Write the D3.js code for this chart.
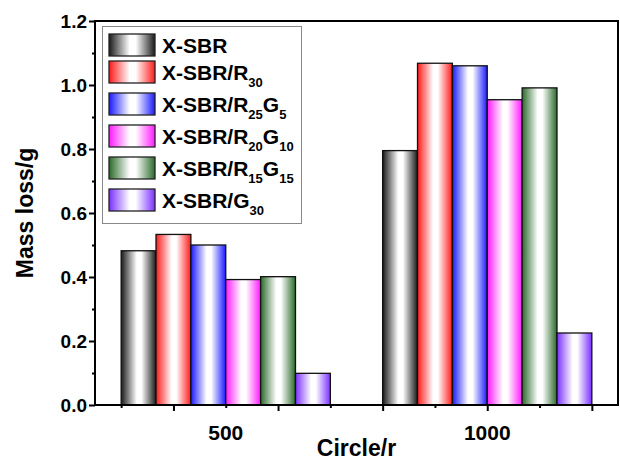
<!DOCTYPE html>
<html>
<head>
<meta charset="utf-8">
<script src="https://cdn.jsdelivr.net/npm/d3@7"></script>
<style>
  body { margin: 0; background: #fff; }
  text { font-family: "Liberation Sans", Arial, sans-serif; font-weight: bold; fill: #000; }
</style>
</head>
<body>
<div id="chart"></div>
<script>
// data
const groups = [500, 1000];
const seriesNames = [
  ["X-SBR"],
  ["X-SBR/R", "30"],
  ["X-SBR/R", "25", "G", "5"],
  ["X-SBR/R", "20", "G", "10"],
  ["X-SBR/R", "15", "G", "15"],
  ["X-SBR/G", "30"]
];
const seriesColors = ["#1a1a1a", "#ff1a1a", "#1a1aff", "#ff1aff", "#2a6a2a", "#7a30ff"];
const massLoss = [
  [0.482, 0.795],
  [0.533, 1.068],
  [0.500, 1.060],
  [0.392, 0.954],
  [0.401, 0.991],
  [0.099, 0.225]
];
const yTicks = [0, 0.2, 0.4, 0.6, 0.8, 1.0, 1.2];

const width = 620, height = 463;
const margin = { top: 21, right: 2, bottom: 58, left: 95 };

const svg = d3.select("#chart").append("svg")
  .attr("width", width)
  .attr("height", height);

const defs = svg.append("defs");
seriesColors.forEach((c, i) => {
  const g = defs.append("linearGradient")
    .attr("id", "grad" + i)
    .attr("x1", "0%").attr("x2", "100%")
    .attr("y1", "0%").attr("y2", "0%");
  g.append("stop").attr("offset", "0%").attr("stop-color", c);
  g.append("stop").attr("offset", "45%").attr("stop-color", "#fff");
  g.append("stop").attr("offset", "58%").attr("stop-color", "#fff");
  g.append("stop").attr("offset", "100%").attr("stop-color", c);
});

const x = d3.scaleLinear()
  .domain([250, 1250])
  .range([margin.left, width - margin.right]);

const y = d3.scaleLinear()
  .domain([0, 1.2])
  .range([height - margin.bottom, margin.top]);

const groupSpan = 400;
const barW = groupSpan / seriesNames.length;

// bars
seriesNames.forEach((name, i) => {
  svg.append("g")
    .selectAll("rect")
    .data(groups.map((g, j) => ({ g, v: massLoss[i][j] })))
    .enter()
    .append("rect")
    .attr("x", d => x(d.g - groupSpan / 2 + i * barW))
    .attr("width", x(barW) - x(0))
    .attr("y", d => y(d.v))
    .attr("height", d => y(0) - y(d.v))
    .attr("fill", "url(#grad" + i + ")")
    .attr("stroke", "#111")
    .attr("stroke-width", 1.3);
});

// frame
svg.append("rect")
  .attr("x", margin.left)
  .attr("y", margin.top)
  .attr("width", width - margin.left - margin.right)
  .attr("height", height - margin.top - margin.bottom)
  .attr("fill", "none")
  .attr("stroke", "#000")
  .attr("stroke-width", 2);

// y axis
const yAxis = svg.append("g")
  .attr("transform", `translate(${margin.left},0)`)
  .call(d3.axisLeft(y).tickValues(yTicks).tickFormat(d3.format(".1f")).tickSize(6).tickPadding(2));
yAxis.select(".domain").remove();
yAxis.selectAll(".tick line").attr("stroke-width", 2);
yAxis.selectAll("text").style("font-size", "19px").attr("dy", "0.35em");

const yMinor = svg.append("g")
  .attr("transform", `translate(${margin.left},0)`)
  .call(d3.axisLeft(y).tickValues(d3.range(0.1, 1.2, 0.2)).tickSize(3).tickFormat(""));
yMinor.select(".domain").remove();
yMinor.selectAll(".tick line").attr("stroke-width", 2);

// x axis
const xAxis = svg.append("g")
  .attr("transform", `translate(0,${height - margin.bottom})`)
  .call(d3.axisBottom(x).tickValues([400, 600, 800, 1000, 1200]).tickSize(6).tickFormat(""));
xAxis.select(".domain").remove();
xAxis.selectAll(".tick line").attr("stroke-width", 2);

const xMinor = svg.append("g")
  .attr("transform", `translate(0,${height - margin.bottom})`)
  .call(d3.axisBottom(x).tickValues([300, 500, 700, 900, 1100]).tickSize(3).tickFormat(""));
xMinor.select(".domain").remove();
xMinor.selectAll(".tick line").attr("stroke-width", 2);

svg.append("g")
  .selectAll("text")
  .data(groups)
  .enter()
  .append("text")
  .attr("x", d => x(d))
  .attr("y", height - margin.bottom + 35)
  .attr("text-anchor", "middle")
  .style("font-size", "21px")
  .text(d => d);

// axis titles
svg.append("text")
  .attr("x", (margin.left + width - margin.right) / 2)
  .attr("y", 456)
  .attr("text-anchor", "middle")
  .style("font-size", "23px")
  .text("Circle/r");

svg.append("text")
  .attr("transform", `translate(33,${(margin.top + height - margin.bottom) / 2}) rotate(-90)`)
  .attr("text-anchor", "middle")
  .style("font-size", "23px")
  .text("Mass loss/g");

// legend
const legend = svg.append("g");
legend.append("rect")
  .attr("x", 102.5).attr("y", 26.5)
  .attr("width", 199).attr("height", 197)
  .attr("fill", "#fff")
  .attr("stroke", "#888")
  .attr("stroke-width", 1);

let rowY = 34;
seriesNames.forEach((parts, i) => {
  legend.append("rect")
    .attr("x", 109).attr("y", rowY)
    .attr("width", 46).attr("height", 22)
    .attr("fill", "url(#grad" + i + ")")
    .attr("stroke", "#222")
    .attr("stroke-width", 1.3);
  const t = legend.append("text")
    .attr("x", 162)
    .attr("y", rowY + 19)
    .style("font-size", "21px");
  parts.forEach((p, k) => {
    const sub = k % 2 === 1;
    t.append("tspan")
      .attr("dy", k === 0 ? 0 : (sub ? 7 : -7))
      .style("font-size", sub ? "13px" : "21px")
      .text(p);
  });
  rowY += parts.length > 1 ? 32 : 27;
});
</script>
</body>
</html>
